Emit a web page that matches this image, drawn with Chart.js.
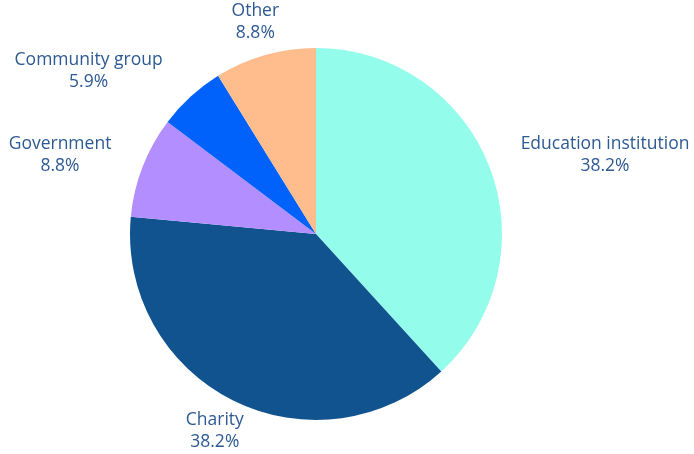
<!DOCTYPE html>
<html>
<head>
<meta charset="utf-8">
<script src="https://cdn.jsdelivr.net/npm/chart.js@4"></script>
<style>
  html, body { margin: 0; padding: 0; background: #fff; }
  #wrap { width: 694px; height: 454px; }
</style>
</head>
<body>
<div id="wrap"><canvas id="pie-chart" width="694" height="454"></canvas></div>
<script>
const categories = ['Education institution', 'Charity', 'Government', 'Community group', 'Other']
const counts = [13, 13, 3, 2, 3]
const percentLabels = ['38.2%', '38.2%', '8.8%', '5.9%', '8.8%']
const sliceColors = ['#93FCEA', '#11538F', '#B38EFE', '#0062FA', '#FFBC8D']

const textColor = '#2D5A92'
const fontFamily = '"Open Sans", sans-serif'

// labels sit outside each slice, on the line of the slice's middle angle
const outsideLabels = {
  id: 'outsideLabels',
  afterDatasetsDraw(chart) {
    const { ctx } = chart
    const meta = chart.getDatasetMeta(0)
    ctx.save()
    ctx.font = '17.5px ' + fontFamily
    ctx.fillStyle = textColor
    ctx.textAlign = 'center'
    ctx.textBaseline = 'middle'
    meta.data.forEach((arc, i) => {
      const mid = (arc.startAngle + arc.endAngle) / 2
      const theta = mid + Math.PI / 2   // from top, clockwise
      const s = Math.sin(theta)
      const c = Math.cos(theta)
      const w = Math.max(ctx.measureText(categories[i]).width, ctx.measureText(percentLabels[i]).width)
      const h = 44
      const R = arc.outerRadius + 12
      const ax = arc.x + s * R
      // side labels get pushed fully clear, top/bottom ones just slide
      const x = Math.abs(s) > 0.6 ? ax + Math.sign(s) * (w / 2 + 20) : ax + s * w / 2
      const y = arc.y - c * R - c * h / 2
      ctx.fillText(categories[i], x, y - 11)
      ctx.fillText(percentLabels[i], x, y + 11)
    })
    ctx.restore()
  }
}

new Chart(document.getElementById('pie-chart'), {
  type: 'pie',
  data: {
    labels: categories,
    datasets: [{
      data: counts,
      backgroundColor: sliceColors,
      borderWidth: 0,
    }]
  },
  options: {
    responsive: false,
    animation: false,
    layout: {
      padding: { top: 48, bottom: 34, left: 130, right: 192 }
    },
    plugins: {
      legend: { display: false },
      tooltip: { enabled: false },
    }
  },
  plugins: [outsideLabels],
})
</script>
</body>
</html>
